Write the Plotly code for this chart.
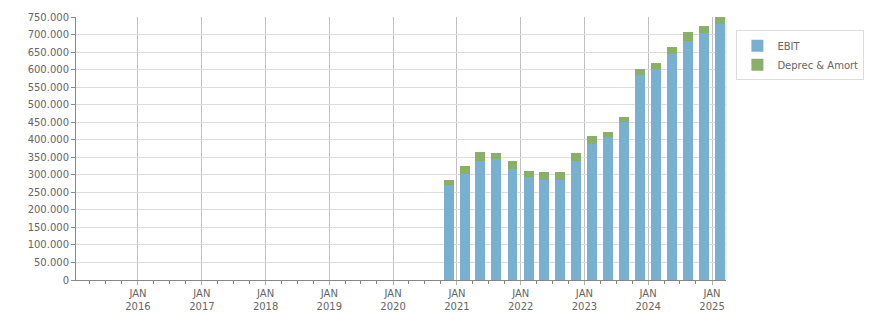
import plotly.graph_objects as go

periods = ["2020-11-15", "2021-02-15", "2021-05-15", "2021-08-15", "2021-11-15",
           "2022-02-15", "2022-05-15", "2022-08-15", "2022-11-15", "2023-02-15",
           "2023-05-15", "2023-08-15", "2023-11-15", "2024-02-15", "2024-05-15",
           "2024-08-15", "2024-11-15", "2025-02-15"]
ebit = [270000, 303000, 340000, 346000, 317000, 294000, 286000, 286000, 340000,
        387000, 407000, 450000, 585000, 602000, 645000, 682000, 703000, 731000]
deprec = [15000, 23000, 26000, 17000, 23000, 17000, 23000, 23000, 23000,
          23000, 15000, 15000, 17000, 18000, 20000, 24000, 20000, 18000]
tick_dates = ["2016-01-01", "2017-01-01", "2018-01-01", "2019-01-01", "2020-01-01",
              "2021-01-01", "2022-01-01", "2023-01-01", "2024-01-01", "2025-01-01"]
tick_text = ["JAN<br>" + d[:4] for d in tick_dates]

bar_w = 57 * 86400000

fig = go.Figure()
fig.add_trace(go.Bar(x=periods, y=ebit, name="EBIT", marker_color="#78b0d2",
                     marker_line_width=0, width=bar_w))
fig.add_trace(go.Bar(x=periods, y=deprec, name="Deprec & Amort", marker_color="#8aaf69",
                     marker_line_width=0, width=bar_w))

font = dict(family="DejaVu Sans", size=10, color="#666666")
fig.update_layout(
    width=876, height=313,
    margin=dict(l=76, r=150, t=17, b=33, autoexpand=False),
    barmode="stack",
    separators=",.",
    paper_bgcolor="white", plot_bgcolor="white",
    font=font,
    showlegend=True,
    legend=dict(x=1.016, y=0.95, xanchor="left", yanchor="top",
                bordercolor="#dddddd", borderwidth=1, bgcolor="white",
                font=font, itemwidth=30, tracegroupgap=0, traceorder="normal"),
    xaxis=dict(type="date", range=["2015-01-11", "2025-03-22"],
               tickvals=tick_dates, ticktext=tick_text,
               showgrid=True, gridcolor="#c0c0c0", gridwidth=1,
               showline=True, linecolor="#888888", linewidth=1,
               ticks="outside", ticklen=4, tickcolor="#b0b0b0",
               minor=dict(dtick="M3", tick0="2015-01-01", ticks="outside",
                          ticklen=3, tickcolor="#888888", showgrid=False),
               zeroline=False, tickfont=font, automargin=False),
    yaxis=dict(range=[0, 750000], dtick=50000, tickformat=",d",
               showgrid=True, gridcolor="#dddddd", gridwidth=1,
               showline=True, linecolor="#888888", linewidth=1,
               ticks="outside", ticklen=4, tickcolor="#888888",
               zeroline=False, tickfont=font, automargin=False),
)
fig.add_shape(type="line", xref="paper", yref="paper", x0=1, x1=1, y0=0, y1=1,
              line=dict(color="#dddddd", width=1))
fig.write_html("out.html")
